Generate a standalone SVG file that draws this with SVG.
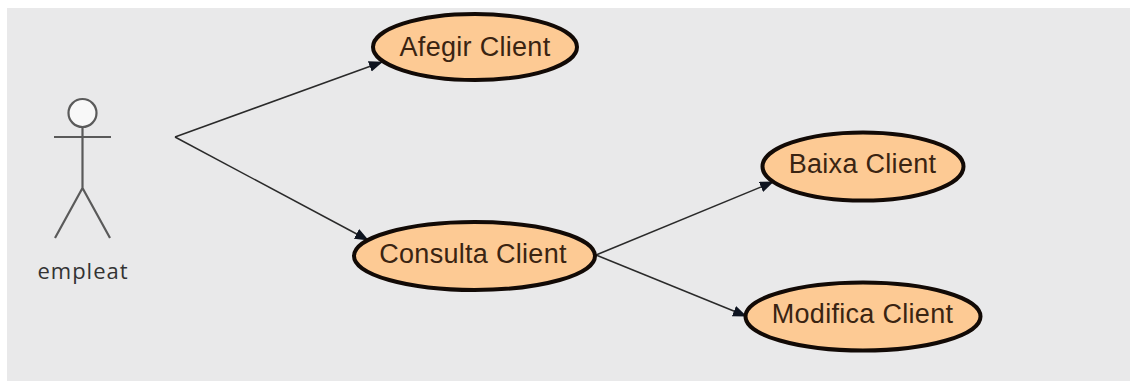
<svg xmlns="http://www.w3.org/2000/svg" width="1130" height="381" viewBox="0 0 1130 381">
<style>
.uc{fill:#fdca94;stroke:#120a06;stroke-width:4}
.t{font-family:"Liberation Sans",Arial,sans-serif;font-size:27px;letter-spacing:.3px;fill:#3a2412;text-anchor:middle}
.a{stroke:#5a5a5a;stroke-width:2.200;fill:none}
.c{stroke:#2a2a2a;stroke-width:1.500;fill:none;marker-end:url(#arr)}
</style>
<defs>
<marker id="arr" markerUnits="userSpaceOnUse" markerWidth="15" markerHeight="12" refX="13" refY="5.500" orient="auto">
<path d="M0 0L14 5.500L0 11Z" fill="#0e1420"/>
</marker>
</defs>
<rect width="1130" height="381" fill="#fff"/>
<rect x="7" y="8" width="1123" height="373" fill="#e9e9ea"/>
<g id="connectors">
<path class="c" d="M175 137L382 62"/>
<path class="c" d="M175 137L368 240"/>
<path class="c" d="M596 255L773 182"/>
<path class="c" d="M596 255L746 316"/>
</g>
<g id="actor-empleat">
<circle cx="82.500" cy="113" r="14" fill="#f8f8f8" stroke="#5a5a5a" stroke-width="2.200"/>
<path class="a" d="M82.500 127V188M54 137H111M82.500 188L55 238M82.500 188L110 238"/>
<text x="83" y="279" font-family="Open Sans,sans-serif" font-size="22" letter-spacing="1" fill="#333" text-anchor="middle">empleat</text>
</g>
<g id="uc-afegir">
<ellipse class="uc" cx="475" cy="47" rx="102" ry="33"/>
<text class="t" x="475" y="56">Afegir Client</text>
</g>
<g id="uc-consulta">
<ellipse class="uc" cx="474.500" cy="256" rx="120.500" ry="34"/>
<text class="t" x="473" y="263">Consulta Client</text>
</g>
<g id="uc-baixa">
<ellipse class="uc" cx="863" cy="166.500" rx="100.500" ry="34"/>
<text class="t" x="862.500" y="173">Baixa Client</text>
</g>
<g id="uc-modifica">
<ellipse class="uc" cx="863" cy="316.500" rx="117.500" ry="34"/>
<text class="t" x="862.500" y="323">Modifica Client</text>
</g>
</svg>
